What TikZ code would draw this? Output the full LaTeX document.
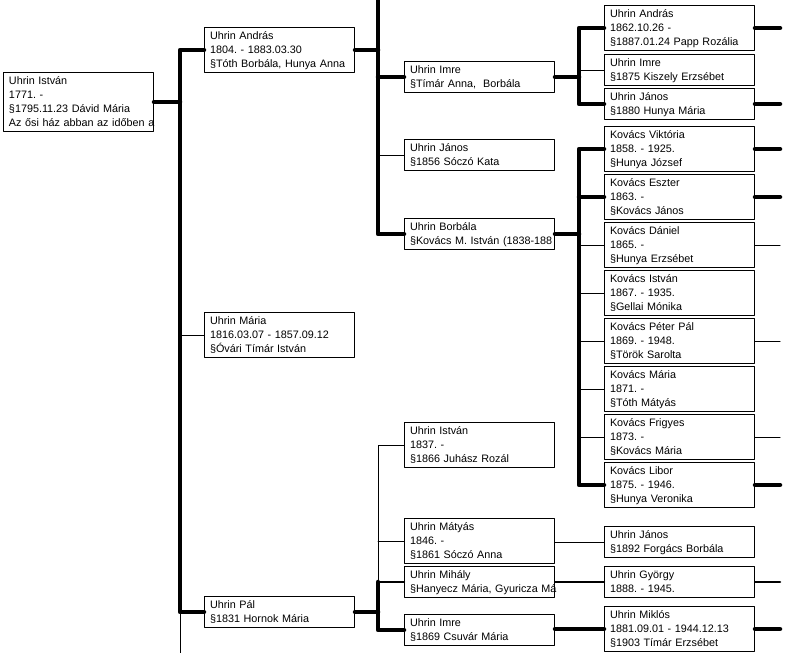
\documentclass[tikz,border=0pt]{standalone}
\usepackage{fontspec}
\setmainfont{Liberation Sans}
\usetikzlibrary{positioning}
\frenchspacing
\tikzset{
  person/.style={draw, fill=white, line width=1pt, anchor=north west, align=left,
    text width=139pt, inner xsep=5.5pt, inner ysep=0pt,
    font=\fontsize{10.8}{14}\selectfont,
    execute at begin node={\rule{0pt}{12pt}}, execute at end node={\rule[-5pt]{0pt}{5pt}}},
  heavy/.style={line width=4.5pt},
  medium/.style={line width=2.5pt},
  fine/.style={line width=1pt},
}

\begin{document}
\begin{tikzpicture}[x=1pt, y=-1pt, line cap=round, line join=round]
	\path[use as bounding box, fill=white] (0,0) rectangle (785,653);
	\coordinate (bus1) at (180,0); \coordinate (bus2) at (378,0); \coordinate (bus3) at (579,0); \coordinate (edge) at (780,0);
	\coordinate (topbus2) at (378,-6); \coordinate (botbus1) at (180,660);
	% generation 0 and 1
	\node [person] (0istvan) at (3,72) {Uhrin István\\1771. -\\§1795.11.23 Dávid Mária\\\mbox{Az ősi ház abban az időben a}};
	\node [person] (1andras) at (204,27) {Uhrin András\\1804. - 1883.03.30\\§Tóth Borbála, Hunya Anna};
	\node [person] (1maria) at (204,312) {Uhrin Mária\\1816.03.07 - 1857.09.12\\§Óvári Tímár István};
	\node [person] (1pal) at (204,596) {Uhrin Pál\\§1831 Hornok Mária};
	% generation 2
	\node [person] (2imre) at (404,61) {Uhrin Imre\\§Tímár Anna,\ \ Borbála};
	\node [person] (2janos) at (404,139) {Uhrin János\\§1856 Sóczó Kata};
	\node [person] (2borbala) at (404,218) {Uhrin Borbála\\\mbox{§Kovács M. István (1838-188}};
	\node [person] (2istvan) at (404,422) {Uhrin István\\1837. -\\§1866 Juhász Rozál};
	\node [person] (2matyas) at (404,518) {Uhrin Mátyás\\1846. -\\§1861 Sóczó Anna};
	\node [person, below=2pt of 2matyas] (2mihaly) {Uhrin Mihály\\\mbox{§Hanyecz Mária, Gyuricza Má}};
	\node [person] (2imre2) at (404,614) {Uhrin Imre\\§1869 Csuvár Mária};
	% generation 3
	\node [person] (3andras) at (604,5) {Uhrin András\\1862.10.26 -\\§1887.01.24 Papp Rozália};
	\node [person, below=3pt of 3andras] (3imre) {Uhrin Imre\\§1875 Kiszely Erzsébet};
	\node [person, below=2pt of 3imre] (3janos) {Uhrin János\\§1880 Hunya Mária};
	\node [person] (3viktoria) at (604,126) {Kovács Viktória\\1858. - 1925.\\§Hunya József};
	\node [person, below=2pt of 3viktoria] (3eszter) {Kovács Eszter\\1863. -\\§Kovács János};
	\node [person, below=2pt of 3eszter] (3daniel) {Kovács Dániel\\1865. -\\§Hunya Erzsébet};
	\node [person, below=2pt of 3daniel] (3istvan) {Kovács István\\1867. - 1935.\\§Gellai Mónika};
	\node [person, below=2pt of 3istvan] (3peter) {Kovács Péter Pál\\1869. - 1948.\\§Török Sarolta};
	\node [person, below=2pt of 3peter] (3maria) {Kovács Mária\\1871. -\\§Tóth Mátyás};
	\node [person, below=2pt of 3maria] (3frigyes) {Kovács Frigyes\\1873. -\\§Kovács Mária};
	\node [person, below=2pt of 3frigyes] (3libor) {Kovács Libor\\1875. - 1946.\\§Hunya Veronika};
	\node [person] (3janos2) at (604,526) {Uhrin János\\§1892 Forgács Borbála};
	\node [person] (3gyorgy) at (604,566) {Uhrin György\\1888. - 1945.};
	\node [person] (3miklos) at (604,606) {Uhrin Miklós\\1881.09.01 - 1944.12.13\\§1903 Tímár Erzsébet};
	% István's children
	\draw [heavy] (0istvan.east) -- (0istvan.east -| bus1);
	\draw [heavy] (1andras.west) -| (bus1 |- 1pal.west) -- (1pal.west);
	\draw [fine] (bus1 |- 1pal.west) -- (botbus1); \draw [fine] (1maria.west) -- (1maria.west -| bus1);
	% András's children
	\draw [heavy] (1andras.east) -- (1andras.east -| bus2);
	\draw [heavy] (topbus2) |- (2borbala.west); \draw [heavy] (2imre.west) -- (2imre.west -| bus2);
	\draw [fine] (2janos.west) -- (2janos.west -| bus2);
	\draw [heavy] (2imre.east) -- (2imre.east -| bus3);
	\draw [heavy] (3andras.west) -| (bus3 |- 3janos.west) -- (3janos.west);
	\draw [fine] (3imre.west) -- (3imre.west -| bus3);
	\draw [heavy] (3andras.east) -- (3andras.east -| edge); \draw [heavy] (3janos.east) -- (3janos.east -| edge);
	% Borbála's children
	\draw [heavy] (2borbala.east) -- (2borbala.east -| bus3);
	\draw [heavy] (3viktoria.west) -| (bus3 |- 3libor.west) -- (3libor.west);
	\draw [heavy] (3eszter.west) -- (3eszter.west -| bus3);
	\foreach \k in {daniel,istvan,peter,maria,frigyes} \draw [fine] (3\k.west) -- (3\k.west -| bus3);
	\foreach \k in {viktoria,eszter,libor} \draw [heavy] (3\k.east) -- (3\k.east -| edge);
	\foreach \k in {daniel,peter,frigyes} \draw [fine] (3\k.east) -- (3\k.east -| edge);
	% Pál's children
	\draw [heavy] (1pal.east) -- (1pal.east -| bus2);
	\draw [fine] (2istvan.west) -| (bus2 |- 2mihaly.west); \draw [fine] (2matyas.west) -- (2matyas.west -| bus2);
	\draw [medium] (2mihaly.west) -- (2mihaly.west -| bus2);
	\draw [heavy] (bus2 |- 2mihaly.west) |- (2imre2.west);
	\draw [fine] (2matyas.east |- 3janos2.west) -- (3janos2.west);
	\draw [medium] (2mihaly.east) -- (3gyorgy.west); \draw [medium] (3gyorgy.east) -- (3gyorgy.east -| edge);
	\draw [heavy] (2imre2.east |- 3miklos.west) -- (3miklos.west); \draw [heavy] (3miklos.east) -- (3miklos.east -| edge);
\end{tikzpicture}
\end{document}
